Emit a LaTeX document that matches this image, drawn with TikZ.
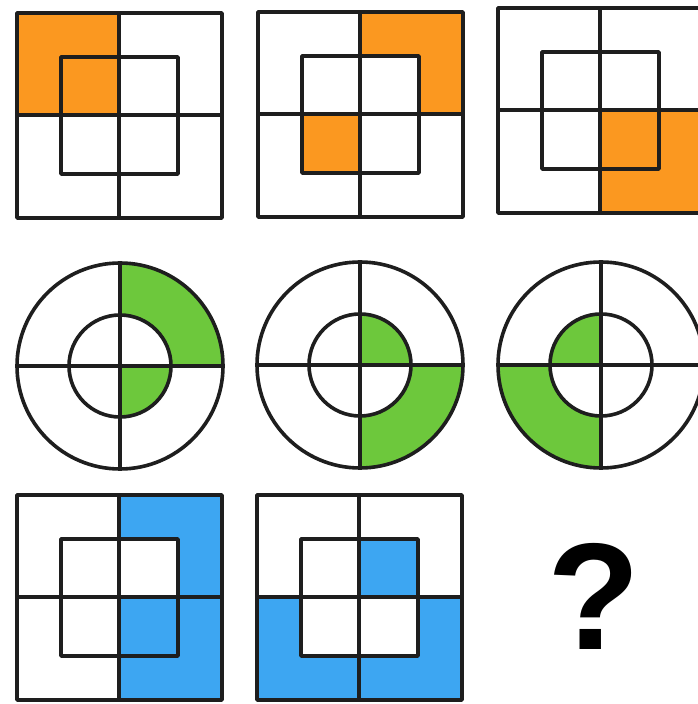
\documentclass[tikz,border=0pt]{standalone}
\usepackage{fontspec}
\setmainfont{Liberation Sans}
\definecolor{orng}{HTML}{FB9820}
\definecolor{grn}{HTML}{6DC83C}
\definecolor{blu}{HTML}{3DA6F2}
\definecolor{ink}{HTML}{1E1E1E}
\tikzset{
  outline/.style={draw=ink, line width=3.6pt, line join=round, line cap=round},
  qmark/.style={font=\bfseries\fontsize{152}{152}\selectfont, inner sep=0pt, anchor=base, text=black}
}
\begin{document}
\begin{tikzpicture}[x=1pt,y=1pt]
\useasboundingbox (0,0) rectangle (698,704);
\clip (0,0) rectangle (698,704);
\fill[white] (0,0) rectangle (698,704);
% ---------- row 1: squares (local y downward) ----------
% S1
\begin{scope}[shift={(17,691)}, y=-1pt]
  \fill[orng] (0,0) rectangle (102,102);
  \draw[outline] (0,0) rectangle (205,205) (102,0) -- (102,205) (0,102) -- (205,102) (44,44) rectangle (161,161);
\end{scope}
% S2
\begin{scope}[shift={(258,692)}, y=-1pt]
  \fill[orng] (102,0) rectangle (205,102);
  \fill[white] (102,44) rectangle (161,102);
  \fill[orng] (44,102) rectangle (102,161);
  \draw[outline] (0,0) rectangle (205,205) (102,0) -- (102,205) (0,102) -- (205,102) (44,44) rectangle (161,161);
\end{scope}
% S3
\begin{scope}[shift={(498,696)}, y=-1pt]
  \fill[orng] (102,102) rectangle (205,205);
  \draw[outline] (0,0) rectangle (205,205) (102,0) -- (102,205) (0,102) -- (205,102) (44,44) rectangle (161,161);
\end{scope}
% ---------- row 2: circles ----------
% C1
\begin{scope}[shift={(120,338)}]
  \fill[grn] (0:51pt) -- (0:103pt) arc[start angle=0, end angle=90, radius=103pt] -- (90:51pt) arc[start angle=90, end angle=0, radius=51pt] -- cycle;
  \fill[grn] (0,0) -- (-90:51pt) arc[start angle=-90, end angle=0, radius=51pt] -- cycle;
  \draw[outline] (0,0) circle[radius=103pt] (0,0) circle[radius=51pt] (-103,0) -- (103,0) (0,-103) -- (0,103);
\end{scope}
% C2
\begin{scope}[shift={(360,339)}]
  \fill[grn] (0,0) -- (0:51pt) arc[start angle=0, end angle=90, radius=51pt] -- cycle;
  \fill[grn] (-90:51pt) -- (-90:103pt) arc[start angle=-90, end angle=0, radius=103pt] -- (0:51pt) arc[start angle=0, end angle=-90, radius=51pt] -- cycle;
  \draw[outline] (0,0) circle[radius=103pt] (0,0) circle[radius=51pt] (-103,0) -- (103,0) (0,-103) -- (0,103);
\end{scope}
% C3
\begin{scope}[shift={(601,339)}]
  \fill[grn] (0,0) -- (90:51pt) arc[start angle=90, end angle=180, radius=51pt] -- cycle;
  \fill[grn] (180:51pt) -- (180:103pt) arc[start angle=180, end angle=270, radius=103pt] -- (270:51pt) arc[start angle=270, end angle=180, radius=51pt] -- cycle;
  \draw[outline] (0,0) circle[radius=103pt] (0,0) circle[radius=51pt] (-103,0) -- (103,0) (0,-103) -- (0,103);
\end{scope}
% ---------- row 3: squares ----------
% S4
\begin{scope}[shift={(17,209)}, y=-1pt]
  \fill[blu] (102,0) rectangle (205,205);
  \fill[white] (102,44) rectangle (161,102);
  \draw[outline] (0,0) rectangle (205,205) (102,0) -- (102,205) (0,102) -- (205,102) (44,44) rectangle (161,161);
\end{scope}
% S5
\begin{scope}[shift={(257,209)}, y=-1pt]
  \fill[blu] (0,102) rectangle (205,205);
  \fill[white] (44,102) rectangle (161,161);
  \fill[blu] (102,44) rectangle (161,102);
  \draw[outline] (0,0) rectangle (205,205) (102,0) -- (102,205) (0,102) -- (205,102) (44,44) rectangle (161,161);
\end{scope}
% question mark
\node[qmark] (q) at (594,54) {?};
\end{tikzpicture}
\end{document}
